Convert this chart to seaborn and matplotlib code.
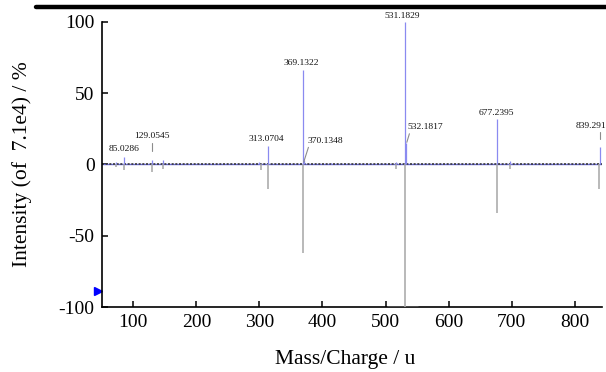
import matplotlib
matplotlib.use("Agg")
import matplotlib.pyplot as plt
from matplotlib.lines import Line2D
import seaborn as sns
import pandas as pd

# ---- data ----
mz_up = [72.0, 85.03, 129.05, 147.0, 300.0, 313.07, 369.13, 370.13, 413.0, 516.0, 531.18, 532.18, 677.24, 697.0, 839.29]
int_up = [2.0, 5.5, 3.0, 3.0, 1.5, 13.0, 66.0, 3.0, 1.0, 1.5, 100.0, 15.0, 31.5, 2.5, 12.0]
mz_dn = [72.0, 85.0, 129.0, 147.0, 302.0, 313.0, 369.0, 516.0, 531.0, 677.0, 697.0, 839.0]
int_dn = [-2.0, -4.0, -5.0, -3.0, -4.0, -17.0, -62.0, -3.0, -100.0, -34.0, -3.0, -17.0]

peak_labels = ["85.0286", "129.0545", "313.0704", "369.1322", "370.1348",
               "531.1829", "532.1817", "677.2395", "839.291"]
label_mz = [85.0286, 129.0545, 313.0704, 369.1322, 370.1348,
            531.1829, 532.1817, 677.2395, 839.291]

x_ticks = [100, 200, 300, 400, 500, 600, 700, 800]
y_ticks = [-100, -50, 0, 50, 100]

# ---- styling (label placement in data units) ----
label_pos = [(85.4, 11.0), (130.0, 20.0), (311.0, 18.0), (366.0, 71.0), (404.0, 16.7),
             (527.0, 103.5), (563.5, 26.4), (676.4, 36.3), (825.2, 27.0)]
leaders = [((129.05, 9.7), (129.05, 14.8)),
           ((370.13, 1.6), (377.7, 12.0)),
           ((533.7, 15.5), (537.8, 21.5)),
           ((839.29, 17.9), (839.29, 22.5))]

sns.set_theme(style="ticks")
plt.rcParams["font.family"] = ["Liberation Serif", "DejaVu Serif"]
plt.rcParams["axes.unicode_minus"] = False

fig = plt.figure(figsize=(6.06, 3.72), dpi=100)
ax = fig.add_axes([0.1688, 0.1734, 0.8246, 0.7688])

XMIN, XMAX = 50.84, 843.2
ax.set_xlim(XMIN, XMAX)
ax.set_ylim(-100, 100)

# baseline
base = pd.DataFrame({"mz": [XMIN, XMAX], "v": [0, 0]})
sns.lineplot(data=base, x="mz", y="v", ax=ax, color="#6a6ad8", lw=1.0, zorder=1)
ax.plot([XMIN, XMAX], [0, 0], color="#3a3a3a", lw=1.2, ls=(0, (1.2, 1.0)), zorder=2)

# peaks
ax.vlines(mz_dn, 0, int_dn, color="#a6a6a6", lw=1.1, zorder=3)
ax.vlines(mz_up, 0, int_up, color="#8a8af0", lw=0.9, zorder=4)
ax.hlines(-100, 502, 551, color="#d0d0d0", lw=1.0, zorder=3)

# labels
for txt, (lx, ly) in zip(peak_labels, label_pos):
    ax.text(lx, ly, txt, fontsize=6.8, ha="center", va="center", color="#111111",
            clip_on=False)
for (a, b) in leaders:
    ax.plot([a[0], b[0]], [a[1], b[1]], color="#8c8c8c", lw=0.8, zorder=4)

# axes styling
for s in ["top", "right"]:
    ax.spines[s].set_visible(False)
for s in ["left", "bottom"]:
    ax.spines[s].set_linewidth(1.2)
    ax.spines[s].set_color("black")
ax.set_xticks(x_ticks)
ax.set_yticks(y_ticks)
ax.tick_params(axis="both", direction="in", length=4.5, width=1.1, color="black",
               labelsize=14, labelcolor="black")
ax.tick_params(axis="x", pad=5)
ax.tick_params(axis="y", pad=5.5)

ax.set_xlabel("Mass/Charge / u", fontsize=15.5, color="black")
ax.xaxis.set_label_coords(0.487, -0.148)
ax.xaxis.label.set_va("top")
ax.set_ylabel("Intensity (of  7.1e4) / %", fontsize=15.5, color="black")
ax.yaxis.set_label_coords(-0.16, 0.5)
ax.yaxis.label.set_va("center")

# blue arrow marker on y axis
ax.plot([-0.009], [-88.8], marker=">", color="#0000ff", markersize=5.5,
        transform=ax.get_yaxis_transform(), clip_on=False, ls="none")

# top black bar
fig.add_artist(Line2D([36 / 606, 1.0], [1 - 7 / 372, 1 - 7 / 372],
                      color="black", lw=3.2, transform=fig.transFigure))

fig.savefig("out.png", dpi=100)
